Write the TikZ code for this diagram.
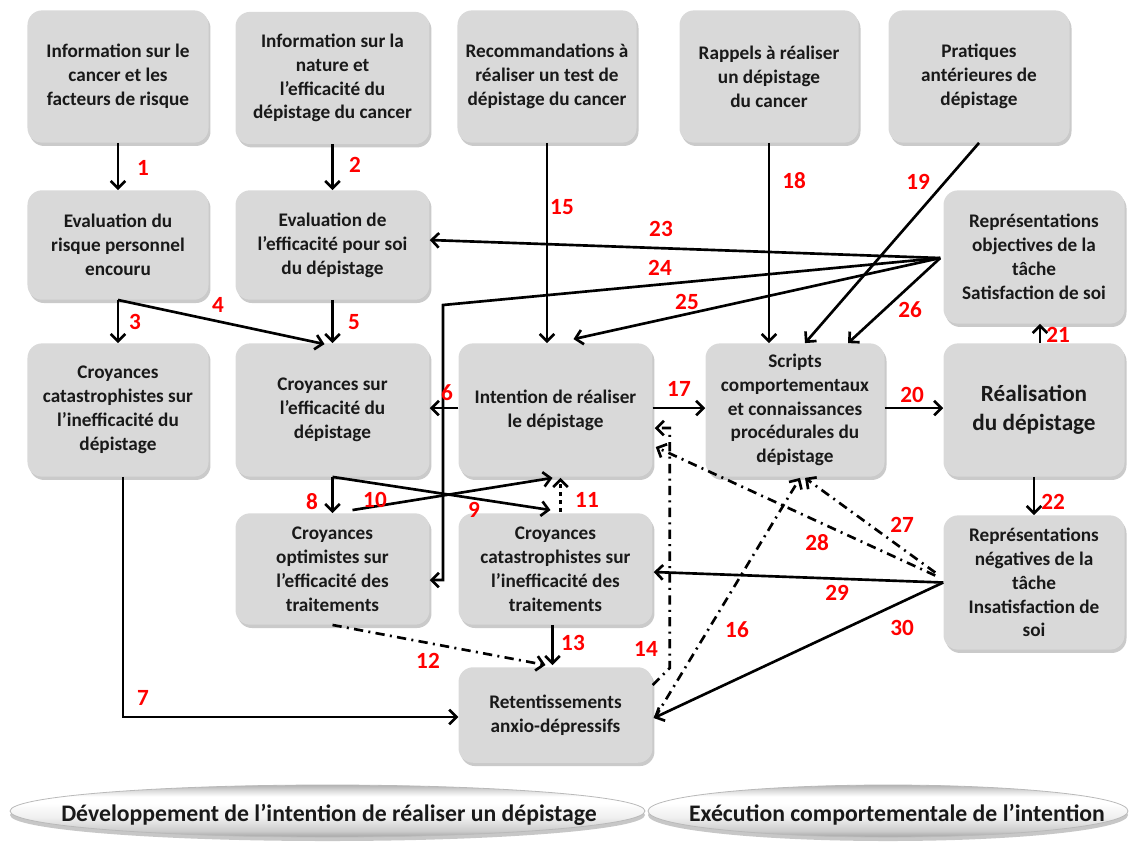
\documentclass[tikz,border=0pt]{standalone}
\usepackage{fontspec}
\setmainfont{Carlito}
\usetikzlibrary{arrows.meta,shadows,calc,shapes.geometric}
\definecolor{boxgray}{RGB}{217,217,217}
\definecolor{numred}{RGB}{255,0,0}
\pgfdeclareverticalshading{pill}{100bp}{color(0bp)=(gray!70); color(25bp)=(gray!70); color(31bp)=(gray!40); color(44bp)=(gray!12); color(58bp)=(white); color(64bp)=(white); color(70bp)=(gray!30); color(75bp)=(gray!60); color(100bp)=(gray!60)}
\begin{document}
\begin{tikzpicture}[x=0.0265cm,y=-0.0265cm,
  box/.style={fill=boxgray, rounded corners=11pt, align=center,
    font=\bfseries\fontsize{14.5}{18}\selectfont, text=black!90, inner sep=0pt,
    drop shadow={shadow xshift=1.5pt, shadow yshift=-2.5pt, opacity=0.35, fill=black!60}},
  sz/.style 2 args={minimum width=#1*0.75pt, minimum height=#2*0.75pt},
  num/.style={text=numred, font=\bfseries\fontsize{17.5}{17.5}\selectfont, inner sep=0pt},
  conn/.style={line width=2pt, -{Straight Barb[length=5.5pt,width=11pt]}},
  dd/.style={dash pattern=on 7pt off 4pt on 1.5pt off 4pt},
  bandtext/.style={font=\bfseries\fontsize{17.9}{20}\selectfont, text=black!90, inner sep=0pt},
]
\useasboundingbox (0,0) rectangle (1131,841);

% boxes
\node[box,sz={182}{133}] (b1) at (118,76.5) {Information sur le\\cancer et les\\facteurs de risque};
\node[box,sz={195}{133}] (b2) at (332.5,78) {Information sur la\\nature et\\l’efficacité du\\dépistage du cancer};
\node[box,sz={180}{133}] (b3) at (547,76.5) {Recommandations à\\réaliser un test de\\dépistage du cancer};
\node[box,sz={180}{133}] (b4) at (769,76.5) {Rappels à réaliser\\un dépistage\\du cancer};
\node[box,sz={182}{133}] (b5) at (979,76.5) {Pratiques\\antérieures de\\dépistage};
\node[box,sz={182}{110}] (b6) at (118,245) {Evaluation du\\risque personnel\\encouru};
\node[box,sz={195}{110}] (b7) at (332.5,245) {Evaluation de\\l’efficacité pour soi\\du dépistage};
\node[box,sz={182}{134}] (b8) at (1034,257) {Représentations\\objectives de la\\tâche\\Satisfaction de soi};
\node[box,sz={182}{134}] (b9) at (118,410) {Croyances\\catastrophistes sur\\l’inefficacité du\\dépistage};
\node[box,sz={195}{134}] (b10) at (332.5,410) {Croyances sur\\l’efficacité du\\dépistage};
\node[box,sz={195}{134}] (b11) at (555.5,410) {Intention de réaliser\\le dépistage};
\node[box,sz={180}{134}] (b12) at (795,410) {Scripts\\comportementaux\\et connaissances\\procédurales du\\dépistage};
\node[box,sz={182}{134},font=\bfseries\fontsize{17.5}{22}\selectfont] (b13) at (1034,410) {Réalisation\\du dépistage};
\node[box,sz={195}{112}] (b14) at (332.5,569) {Croyances\\optimistes sur\\l’efficacité des\\traitements};
\node[box,sz={195}{112}] (b15) at (555.5,569) {Croyances\\catastrophistes sur\\l’inefficacité des\\traitements};
\node[box,sz={182}{135}] (b16) at (1034,582.5) {Représentations\\négatives de la\\tâche\\Insatisfaction de\\soi};
\node[box,sz={195}{96}] (b17) at (555.5,715) {Retentissements\\anxio-dépressifs};

% bottom bands
\fill[black, opacity=0.22] (327.5,815) ellipse [x radius=317.5, y radius=26];
\fill[black, opacity=0.22] (888,815) ellipse [x radius=240, y radius=26];
\shade[shading=pill, draw=gray!55, line width=0.6pt] (327.5,811) ellipse [x radius=317.5, y radius=26];
\shade[shading=pill, draw=gray!55, line width=0.6pt] (888,811) ellipse [x radius=240, y radius=26];
\node[bandtext] (e1) at (329,815) {Développement de l’intention de réaliser un dépistage};
\node[bandtext] (e2) at (897,815) {Exécution comportementale de l’intention};

% connectors
\draw[conn] (b1.south) -- (b6.north);
\draw[conn] (b2.south) -- (b7.north);
\draw[conn] (b6.south) -- (b9.north);
\draw[conn] (b6.south) -- ($(b10.north)+(-8,1)$);
\draw[conn] (b7.south) -- (b10.north);
\draw[conn] ($(b11.west)+(0,-2)$) -- ($(b10.east)+(0,-2)$);
\draw[conn] ($(b9.south)+(5,0)$) |- ($(b17.west)+(0,2)$);
\draw[conn] (b10.south) -- (b14.north);
\draw[conn] (b10.south) -- ($(b15.north)+(-5,-3)$);
\draw[conn] ($(b14.north)+(20,-3)$) -- ($(b11.south)+(-3,1)$);
\draw[conn,dashed] ($(b15.north)+(5,-1)$) -- ($(b11.south)+(5,1)$);
\draw[conn,dd] (b14.south) -- ($(b17.north)+(-10,-2)$);
\draw[conn] ($(b15.south)+(-3,0)$) -- ($(b17.north)+(-3,-2)$);
\coordinate (k14) at ($(b17.north east)+(0,18)$);
\draw[conn,dd] (k14) -- ++(17,-17) |- ($(b11.east)+(2,18)$);
\draw[conn] (b3.south) -- (b3.south |- b11.north);
\draw[conn,dd] ($(b17.east)+(2,3)$) -- ($(b12.south)+(5,1)$);
\draw[conn] ($(b11.east)+(0,-2)$) -- ($(b12.west)+(0,-2)$);
\draw[conn] (b4.south) -- (b4.south |- b12.north);
\draw[conn] (b5.south) -- ($(b12.north)+(10,0)$);
\draw[conn] ($(b12.east)+(0,-2)$) -- ($(b13.west)+(0,-2)$);
\draw[conn] ($(b13.north)+(6,0)$) -- ($(b8.south)+(6,0)$);
\draw[conn] (b13.south) -- (b16.north);
\coordinate (h8) at ($(b8.west)+(-3,1)$);
\draw[conn] (h8) -- ($(b7.east)+(0,-5)$);
\coordinate (k24a) at (443,305);
\coordinate (k24b) at (443,580);
\draw[conn] (h8) -- (k24a) -- (k24b) -- (k24b -| b14.east);
\draw[conn] (h8) -- ($(b11.north)+(18,-4)$);
\draw[conn] (h8) -- ($(b12.north)+(53,0)$);
\draw[conn,dd] ($(b16.west)+(-8,-10)$) -- ($(b12.south)+(10,1)$);
\draw[conn,dd] ($(b16.west)+(-8,-7)$) -- ($(b11.east)+(3,37)$);
\draw[conn] (b16.west) -- ($(b15.east)+(1,3)$);
\draw[conn] (b16.west) -- ($(b17.east)+(1,3)$);

% labels
\node[num] (n1) at (143,168) {1};
\node[num] (n2) at (355,165) {2};
\node[num] (n3) at (135,322) {3};
\node[num] (n4) at (218,305) {4};
\node[num] (n5) at (354,322) {5};
\node[num] (n6) at (447,393) {6};
\node[num] (n7) at (143,698) {7};
\node[num] (n8) at (312,502) {8};
\node[num] (n9) at (474,510) {9};
\node[num] (n10) at (375,500) {10};
\node[num] (n11) at (587,500) {11};
\node[num] (n12) at (428,661) {12};
\node[num] (n13) at (573,643) {13};
\node[num] (n14) at (646,649) {14};
\node[num] (n15) at (562,207) {15};
\node[num] (n16) at (737,630) {16};
\node[num] (n17) at (679,389) {17};
\node[num] (n18) at (794,181) {18};
\node[num] (n19) at (918,182) {19};
\node[num] (n20) at (912,395) {20};
\node[num] (n21) at (1058,335) {21};
\node[num] (n22) at (1053,502) {22};
\node[num] (n23) at (661,229) {23};
\node[num] (n24) at (660,268) {24};
\node[num] (n25) at (687,302) {25};
\node[num] (n26) at (910,310) {26};
\node[num] (n27) at (902,525) {27};
\node[num] (n28) at (817,543) {28};
\node[num] (n29) at (837,593) {29};
\node[num] (n30) at (902,628) {30};
\end{tikzpicture}
\end{document}
